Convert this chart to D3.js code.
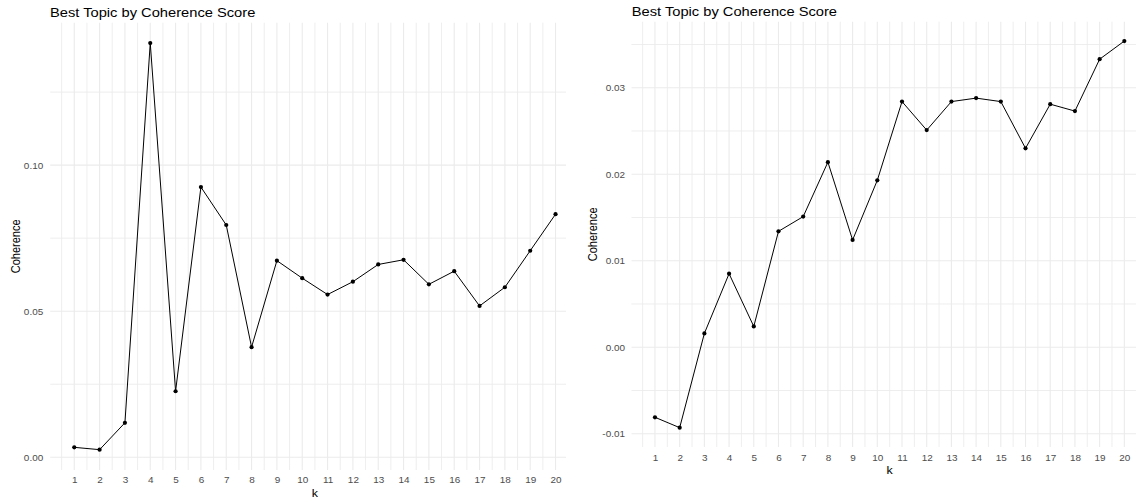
<!DOCTYPE html>
<html>
<head>
<meta charset="utf-8">
<script src="https://cdn.jsdelivr.net/npm/d3@7"></script>
<style>
    body { margin: 0; background: #fff; }
    svg { display: block; font-family: "Liberation Sans", Arial, sans-serif; }
</style>
</head>
<body>
<svg id="chart" width="1136" height="498"></svg>
<script>
// k on the x axis, shared by both plots
const kValues = [1, 2, 3, 4, 5, 6, 7, 8, 9, 10, 11, 12, 13, 14, 15, 16, 17, 18, 19, 20];

// coherence per k
const leftCoherence = [0.0034, 0.0026, 0.0118, 0.1418, 0.0226, 0.0925, 0.0795, 0.0377, 0.0673, 0.0613,
    0.0557, 0.0601, 0.0660, 0.0676, 0.0592, 0.0637, 0.0518, 0.0582, 0.0707, 0.0832];
const rightCoherence = [-0.0081, -0.0093, 0.0016, 0.0085, 0.0024, 0.0134, 0.0151, 0.0214, 0.0124, 0.0193,
    0.0284, 0.0251, 0.0284, 0.0288, 0.0284, 0.0230, 0.0281, 0.0273, 0.0333, 0.0354];

// tick labels
const leftYTicks = [0, 0.05, 0.10];
const rightYTicks = [-0.01, 0, 0.01, 0.02, 0.03];

const titleText = "Best Topic by Coherence Score";
const xTitle = "k";
const yTitle = "Coherence";

const GRID = "#ebebeb",
    TICK_TEXT = "#4d4d4d",
    STRETCH = 1.13; // the picture's text is a bit wider than it is tall

const fmt = d3.formatLocale({ decimal: ".", thousands: ",", grouping: [3], currency: ["", ""], minus: "-" }).format(".2f");

/**
 * 5% padding on each side, like ggplot does
 */
function expand(extent) {
    const pad = (extent[1] - extent[0]) * 0.05;
    return [extent[0] - pad, extent[1] + pad];
}

/**
 * Draw one ggplot-like panel
 * @param {d3 selection} svg
 * @param {Array} values
 * @param {Array} yTicks
 * @param {Object} box  pixel layout of the panel
 */
function drawPanel(svg, values, yTicks, box) {
    const data = kValues.map((k, i) => ({ k, v: values[i] }));

    const x = d3.scaleLinear().domain(expand(d3.extent(kValues))).range([box.left, box.right]);
    const y = d3.scaleLinear().domain(expand(d3.extent(values))).range([box.bottom, box.top]);

    const clipId = "clip-" + box.id;
    svg.append("clipPath").attr("id", clipId)
        .append("rect")
        .attr("x", box.left - 2).attr("y", 0)
        .attr("width", box.clipRight - box.left + 2).attr("height", 498);

    const g = svg.append("g").attr("clip-path", `url(#${clipId})`);

    // minor grid
    const xd = x.domain(), yd = y.domain();
    const xMinor = kValues.concat([21]).map((k) => k - 0.5).filter((k) => k >= xd[0] && k <= xd[1]);
    const step = yTicks[1] - yTicks[0];
    const yMinor = [yTicks[0] - step / 2].concat(yTicks.map((t) => t + step / 2))
        .filter((t) => t >= yd[0] && t <= yd[1]);

    g.selectAll(".ymin").data(yMinor).enter().append("line")
        .attr("x1", box.left).attr("x2", box.right)
        .attr("y1", (d) => y(d)).attr("y2", (d) => y(d))
        .attr("stroke", GRID).attr("stroke-width", 0.85);
    g.selectAll(".xmin").data(xMinor).enter().append("line")
        .attr("y1", box.top).attr("y2", box.bottom)
        .attr("x1", (d) => x(d)).attr("x2", (d) => x(d))
        .attr("stroke", GRID).attr("stroke-width", 0.85);

    // major grid
    g.selectAll(".ymaj").data(yTicks).enter().append("line")
        .attr("x1", box.left).attr("x2", box.right)
        .attr("y1", (d) => y(d)).attr("y2", (d) => y(d))
        .attr("stroke", GRID).attr("stroke-width", 1.1);
    g.selectAll(".xmaj").data(kValues).enter().append("line")
        .attr("y1", box.top).attr("y2", box.bottom)
        .attr("x1", (d) => x(d)).attr("x2", (d) => x(d))
        .attr("stroke", GRID).attr("stroke-width", 1.1);

    // line + points
    const line = d3.line().x((d) => x(d.k)).y((d) => y(d.v));
    g.append("path").datum(data)
        .attr("d", line)
        .attr("fill", "none").attr("stroke", "#000").attr("stroke-width", 1);
    g.selectAll("circle").data(data).enter().append("circle")
        .attr("cx", (d) => x(d.k)).attr("cy", (d) => y(d.v))
        .attr("r", 2.1).attr("fill", "#000");

    // y axis labels
    const yAxis = svg.append("g").attr("transform", `translate(${box.left},0)`)
        .call(d3.axisLeft(y).tickValues(yTicks).tickFormat(fmt).tickSize(0));
    yAxis.select(".domain").remove();
    yAxis.selectAll("text")
        .attr("x", 0).attr("dy", null).attr("y", 3.2)
        .attr("transform", `translate(${-box.yLabelGap},0) scale(${STRETCH},1)`)
        .attr("fill", TICK_TEXT).attr("font-size", 8.8)
        .attr("font-family", null);

    // x axis labels
    const xAxis = svg.append("g").attr("transform", `translate(0,${box.bottom})`)
        .call(d3.axisBottom(x).tickValues(kValues).tickFormat(d3.format("d")).tickSize(0));
    xAxis.select(".domain").remove();
    xAxis.selectAll("text")
        .attr("dy", null).attr("y", box.xLabelY)
        .attr("transform", `scale(${STRETCH},1)`)
        .attr("x", 0)
        .attr("fill", TICK_TEXT).attr("font-size", 8.8)
        .attr("font-family", null);

    // titles
    const midX = (box.left + box.right) / 2,
        midY = (box.top + box.bottom) / 2;

    svg.append("text")
        .attr("transform", `translate(${midX},${box.bottom + box.kY}) scale(${STRETCH},1)`)
        .attr("text-anchor", "middle").attr("font-size", 11).attr("fill", "#000")
        .text(xTitle);

    svg.append("text")
        .attr("transform", `translate(${box.yTitleX},${midY}) scale(${STRETCH},1) rotate(-90)`)
        .attr("text-anchor", "middle").attr("font-size", 11).attr("fill", "#000")
        .text(yTitle);

    svg.append("text")
        .attr("transform", `translate(${box.titleX},${box.titleY}) scale(${STRETCH},1)`)
        .attr("font-size", 13).attr("fill", "#000")
        .text(titleText);
}

const svg = d3.select("#chart");

drawPanel(svg, leftCoherence, leftYTicks, {
    id: "left", left: 50.2, right: 579.6, clipRight: 566, top: 22.7, bottom: 470,
    yLabelGap: 7, xLabelY: 13.5, kY: 26.8, yTitleX: 19.5, titleX: 50, titleY: 16.7,
});

drawPanel(svg, rightCoherence, rightYTicks, {
    id: "right", left: 631.5, right: 1147.8, clipRight: 1136, top: 21.7, bottom: 447,
    yLabelGap: 6.5, xLabelY: 14, kY: 26.5, yTitleX: 597, titleX: 631.7, titleY: 15.7,
});
</script>
</body>
</html>
